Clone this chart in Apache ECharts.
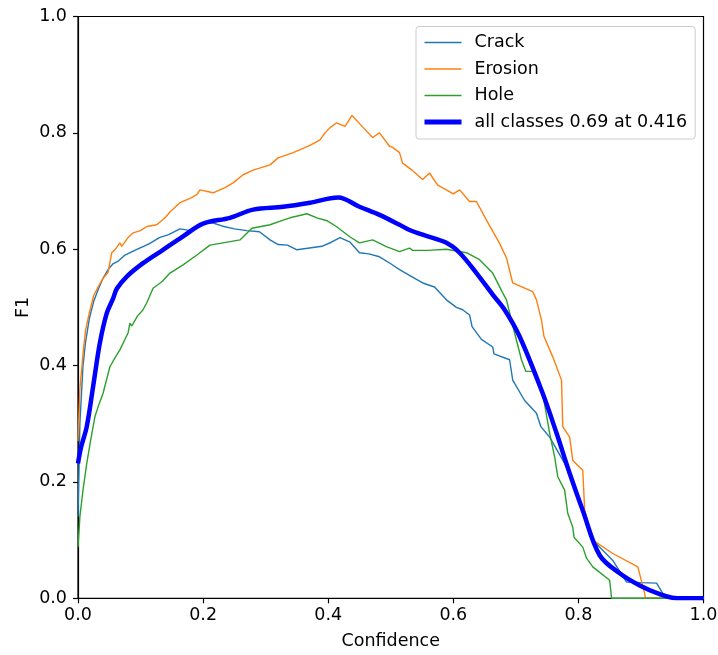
<!DOCTYPE html>
<html>
<head>
<meta charset="utf-8">
<script src="https://cdn.jsdelivr.net/npm/echarts@6/dist/echarts.min.js"></script>
<style>
html,body{margin:0;padding:0;background:#fff;}
#chart{width:718px;height:655px;}
</style>
</head>
<body>
<div id="chart"></div>
<script>
const seriesNames = ['Crack', 'Erosion', 'Hole', 'all classes 0.69 at 0.416'];
const xTicks = [0, 0.2, 0.4, 0.6, 0.8, 1.0];
const yTicks = [0, 0.2, 0.4, 0.6, 0.8, 1.0];

const crackConf = [0,0.003,0.008,0.012,0.018,0.025,0.032,0.04,0.048,0.056,0.065,0.075,0.085,0.095,0.105,0.115,0.13,0.145,0.163,0.18,0.2,0.216,0.23,0.25,0.27,0.29,0.307,0.32,0.335,0.35,0.37,0.39,0.405,0.419,0.435,0.45,0.465,0.482,0.5,0.514,0.53,0.551,0.57,0.589,0.605,0.615,0.626,0.63,0.645,0.663,0.665,0.69,0.695,0.714,0.733,0.74,0.754,0.778,0.802,0.823,0.855,0.877,0.9,0.925,0.935,0.95,1.0];
const crackF1 = [0.14,0.3,0.4,0.44,0.48,0.51,0.53,0.55,0.565,0.575,0.58,0.59,0.595,0.6,0.605,0.61,0.62,0.625,0.635,0.632,0.645,0.645,0.64,0.635,0.632,0.63,0.616,0.608,0.607,0.599,0.602,0.605,0.612,0.62,0.612,0.594,0.592,0.587,0.575,0.565,0.555,0.542,0.535,0.513,0.5,0.496,0.487,0.467,0.445,0.432,0.42,0.41,0.375,0.34,0.318,0.295,0.277,0.232,0.169,0.10,0.065,0.028,0.027,0.026,0.008,0.0,0.0];

const erosionConf = [0,0.003,0.008,0.012,0.018,0.025,0.032,0.04,0.048,0.054,0.06,0.067,0.07,0.08,0.088,0.1,0.11,0.126,0.14,0.147,0.163,0.18,0.19,0.195,0.216,0.235,0.248,0.264,0.28,0.307,0.32,0.344,0.37,0.387,0.395,0.403,0.413,0.427,0.438,0.456,0.471,0.482,0.498,0.503,0.514,0.519,0.535,0.551,0.562,0.575,0.589,0.6,0.61,0.626,0.637,0.653,0.674,0.685,0.695,0.727,0.733,0.741,0.745,0.759,0.773,0.775,0.786,0.791,0.807,0.81,0.823,0.855,0.895,0.906,0.907,1.0];
const erosionF1 = [0.27,0.36,0.42,0.46,0.49,0.52,0.535,0.55,0.56,0.594,0.6,0.611,0.605,0.62,0.628,0.632,0.639,0.642,0.655,0.664,0.68,0.688,0.694,0.702,0.697,0.706,0.714,0.728,0.736,0.745,0.757,0.766,0.778,0.788,0.8,0.809,0.817,0.811,0.83,0.809,0.792,0.8,0.777,0.775,0.766,0.748,0.735,0.72,0.731,0.71,0.702,0.695,0.702,0.682,0.682,0.65,0.61,0.585,0.542,0.527,0.513,0.478,0.45,0.415,0.375,0.295,0.277,0.237,0.22,0.151,0.10,0.077,0.054,0.008,0,0];

const holeConf = [0,0.003,0.008,0.014,0.02,0.027,0.034,0.04,0.051,0.06,0.067,0.08,0.083,0.086,0.095,0.104,0.11,0.12,0.135,0.147,0.168,0.19,0.211,0.232,0.259,0.278,0.307,0.328,0.339,0.366,0.382,0.398,0.413,0.435,0.45,0.471,0.494,0.514,0.53,0.535,0.56,0.589,0.621,0.642,0.663,0.679,0.685,0.698,0.709,0.716,0.727,0.743,0.754,0.762,0.767,0.778,0.783,0.791,0.793,0.807,0.813,0.823,0.85,0.853,1.0];
const holeF1 = [0.088,0.14,0.186,0.232,0.27,0.312,0.335,0.352,0.398,0.415,0.427,0.456,0.473,0.468,0.485,0.496,0.508,0.533,0.545,0.559,0.573,0.59,0.607,0.611,0.616,0.636,0.642,0.65,0.654,0.661,0.654,0.649,0.639,0.621,0.611,0.616,0.604,0.596,0.602,0.598,0.598,0.6,0.594,0.582,0.559,0.525,0.513,0.456,0.41,0.39,0.39,0.352,0.284,0.243,0.209,0.186,0.146,0.122,0.105,0.088,0.069,0.054,0.031,0,0];

const allConf = [0,0.005,0.014,0.025,0.035,0.046,0.056,0.062,0.078,0.104,0.136,0.168,0.2,0.243,0.28,0.328,0.371,0.416,0.45,0.482,0.514,0.53,0.551,0.589,0.61,0.637,0.663,0.682,0.706,0.743,0.765,0.786,0.807,0.834,0.866,0.898,0.93,0.95,0.97,1.0];
const allF1 = [0.232,0.26,0.295,0.37,0.439,0.49,0.515,0.532,0.553,0.576,0.599,0.622,0.644,0.654,0.668,0.673,0.68,0.689,0.673,0.659,0.642,0.633,0.625,0.611,0.594,0.559,0.522,0.496,0.45,0.352,0.284,0.215,0.151,0.074,0.043,0.022,0.007,0.001,0,0];

function pairs(xs, ys) { return xs.map((x, i) => [x, ys[i]]); }

const FONT = 'DejaVu Sans';
const FS = 17.5;
const colors = ['#1f77b4', '#ff7f0e', '#2ca02c', '#0000ff'];
const widths = [1.4, 1.4, 1.4, 4.5];
const legendWidths = [1.6, 1.6, 1.6, 5];

const chart = echarts.init(document.getElementById('chart'), null, {renderer: 'canvas'});
chart.setOption({
  backgroundColor: '#ffffff',
  animation: false,
  textStyle: {fontFamily: FONT},
  grid: {left: 78, right: 14.5, top: 16.5, bottom: 56.7, containLabel: false, outerBoundsMode: 'none',
         show: true, borderColor: '#000', borderWidth: 1.2, backgroundColor: 'transparent'},
  legend: {
    show: true,
    data: seriesNames.map((n, i) => ({
      name: n,
      itemStyle: {opacity: 0},
      lineStyle: {color: colors[i], width: legendWidths[i], opacity: 1}
    })),
    orient: 'vertical',
    left: 416, top: 26.5,
    padding: [7, 8, 8, 6],
    itemWidth: 37, itemHeight: 14, itemGap: 8.5,
    backgroundColor: 'rgba(255,255,255,0.8)',
    borderColor: '#cccccc', borderWidth: 1, borderRadius: 3,
    textStyle: {fontFamily: FONT, fontSize: FS, color: '#000', lineHeight: 17.5, padding: [0, 0, 0, 8]}
  },
  xAxis: {
    type: 'value', min: 0, max: 1, interval: 0.2,
    name: 'Confidence', nameLocation: 'middle', nameGap: 34, nameMoveOverlap: false,
    nameTextStyle: {fontFamily: FONT, fontSize: FS, color: '#000'},
    axisLine: {show: true, onZero: false, lineStyle: {color: '#000', width: 1.2}},
    axisTick: {show: true, inside: false, length: 5, lineStyle: {color: '#000', width: 1.2}},
    axisLabel: {fontFamily: FONT, fontSize: FS, color: '#000', margin: 8,
      customValues: xTicks, formatter: v => v.toFixed(1)},
    splitLine: {show: false}
  },
  yAxis: {
    type: 'value', min: 0, max: 1, interval: 0.2,
    name: 'F1', nameLocation: 'middle', nameGap: 46, nameRotate: 90, nameMoveOverlap: false,
    nameTextStyle: {fontFamily: FONT, fontSize: FS, color: '#000'},
    axisLine: {show: true, onZero: false, lineStyle: {color: '#000', width: 1.2}},
    axisTick: {show: true, inside: false, length: 5, lineStyle: {color: '#000', width: 1.2}},
    axisLabel: {fontFamily: FONT, fontSize: FS, color: '#000', margin: 11,
      customValues: yTicks, formatter: v => v.toFixed(1)},
    splitLine: {show: false}
  },
  series: [
    {name: seriesNames[0], type: 'line', data: pairs(crackConf, crackF1), symbol: 'none', showSymbol: false,
     lineStyle: {color: colors[0], width: widths[0]}, itemStyle: {color: colors[0]}, z: 2},
    {name: seriesNames[1], type: 'line', data: pairs(erosionConf, erosionF1), symbol: 'none', showSymbol: false,
     lineStyle: {color: colors[1], width: widths[1]}, itemStyle: {color: colors[1]}, z: 3},
    {name: seriesNames[2], type: 'line', data: pairs(holeConf, holeF1), symbol: 'none', showSymbol: false,
     lineStyle: {color: colors[2], width: widths[2]}, itemStyle: {color: colors[2]}, z: 4},
    {name: seriesNames[3], type: 'line', data: pairs(allConf, allF1), symbol: 'none', showSymbol: false, smooth: 0.35,
     lineStyle: {color: colors[3], width: widths[3]}, itemStyle: {color: colors[3]}, z: 5}
  ]
});
</script>
</body>
</html>
